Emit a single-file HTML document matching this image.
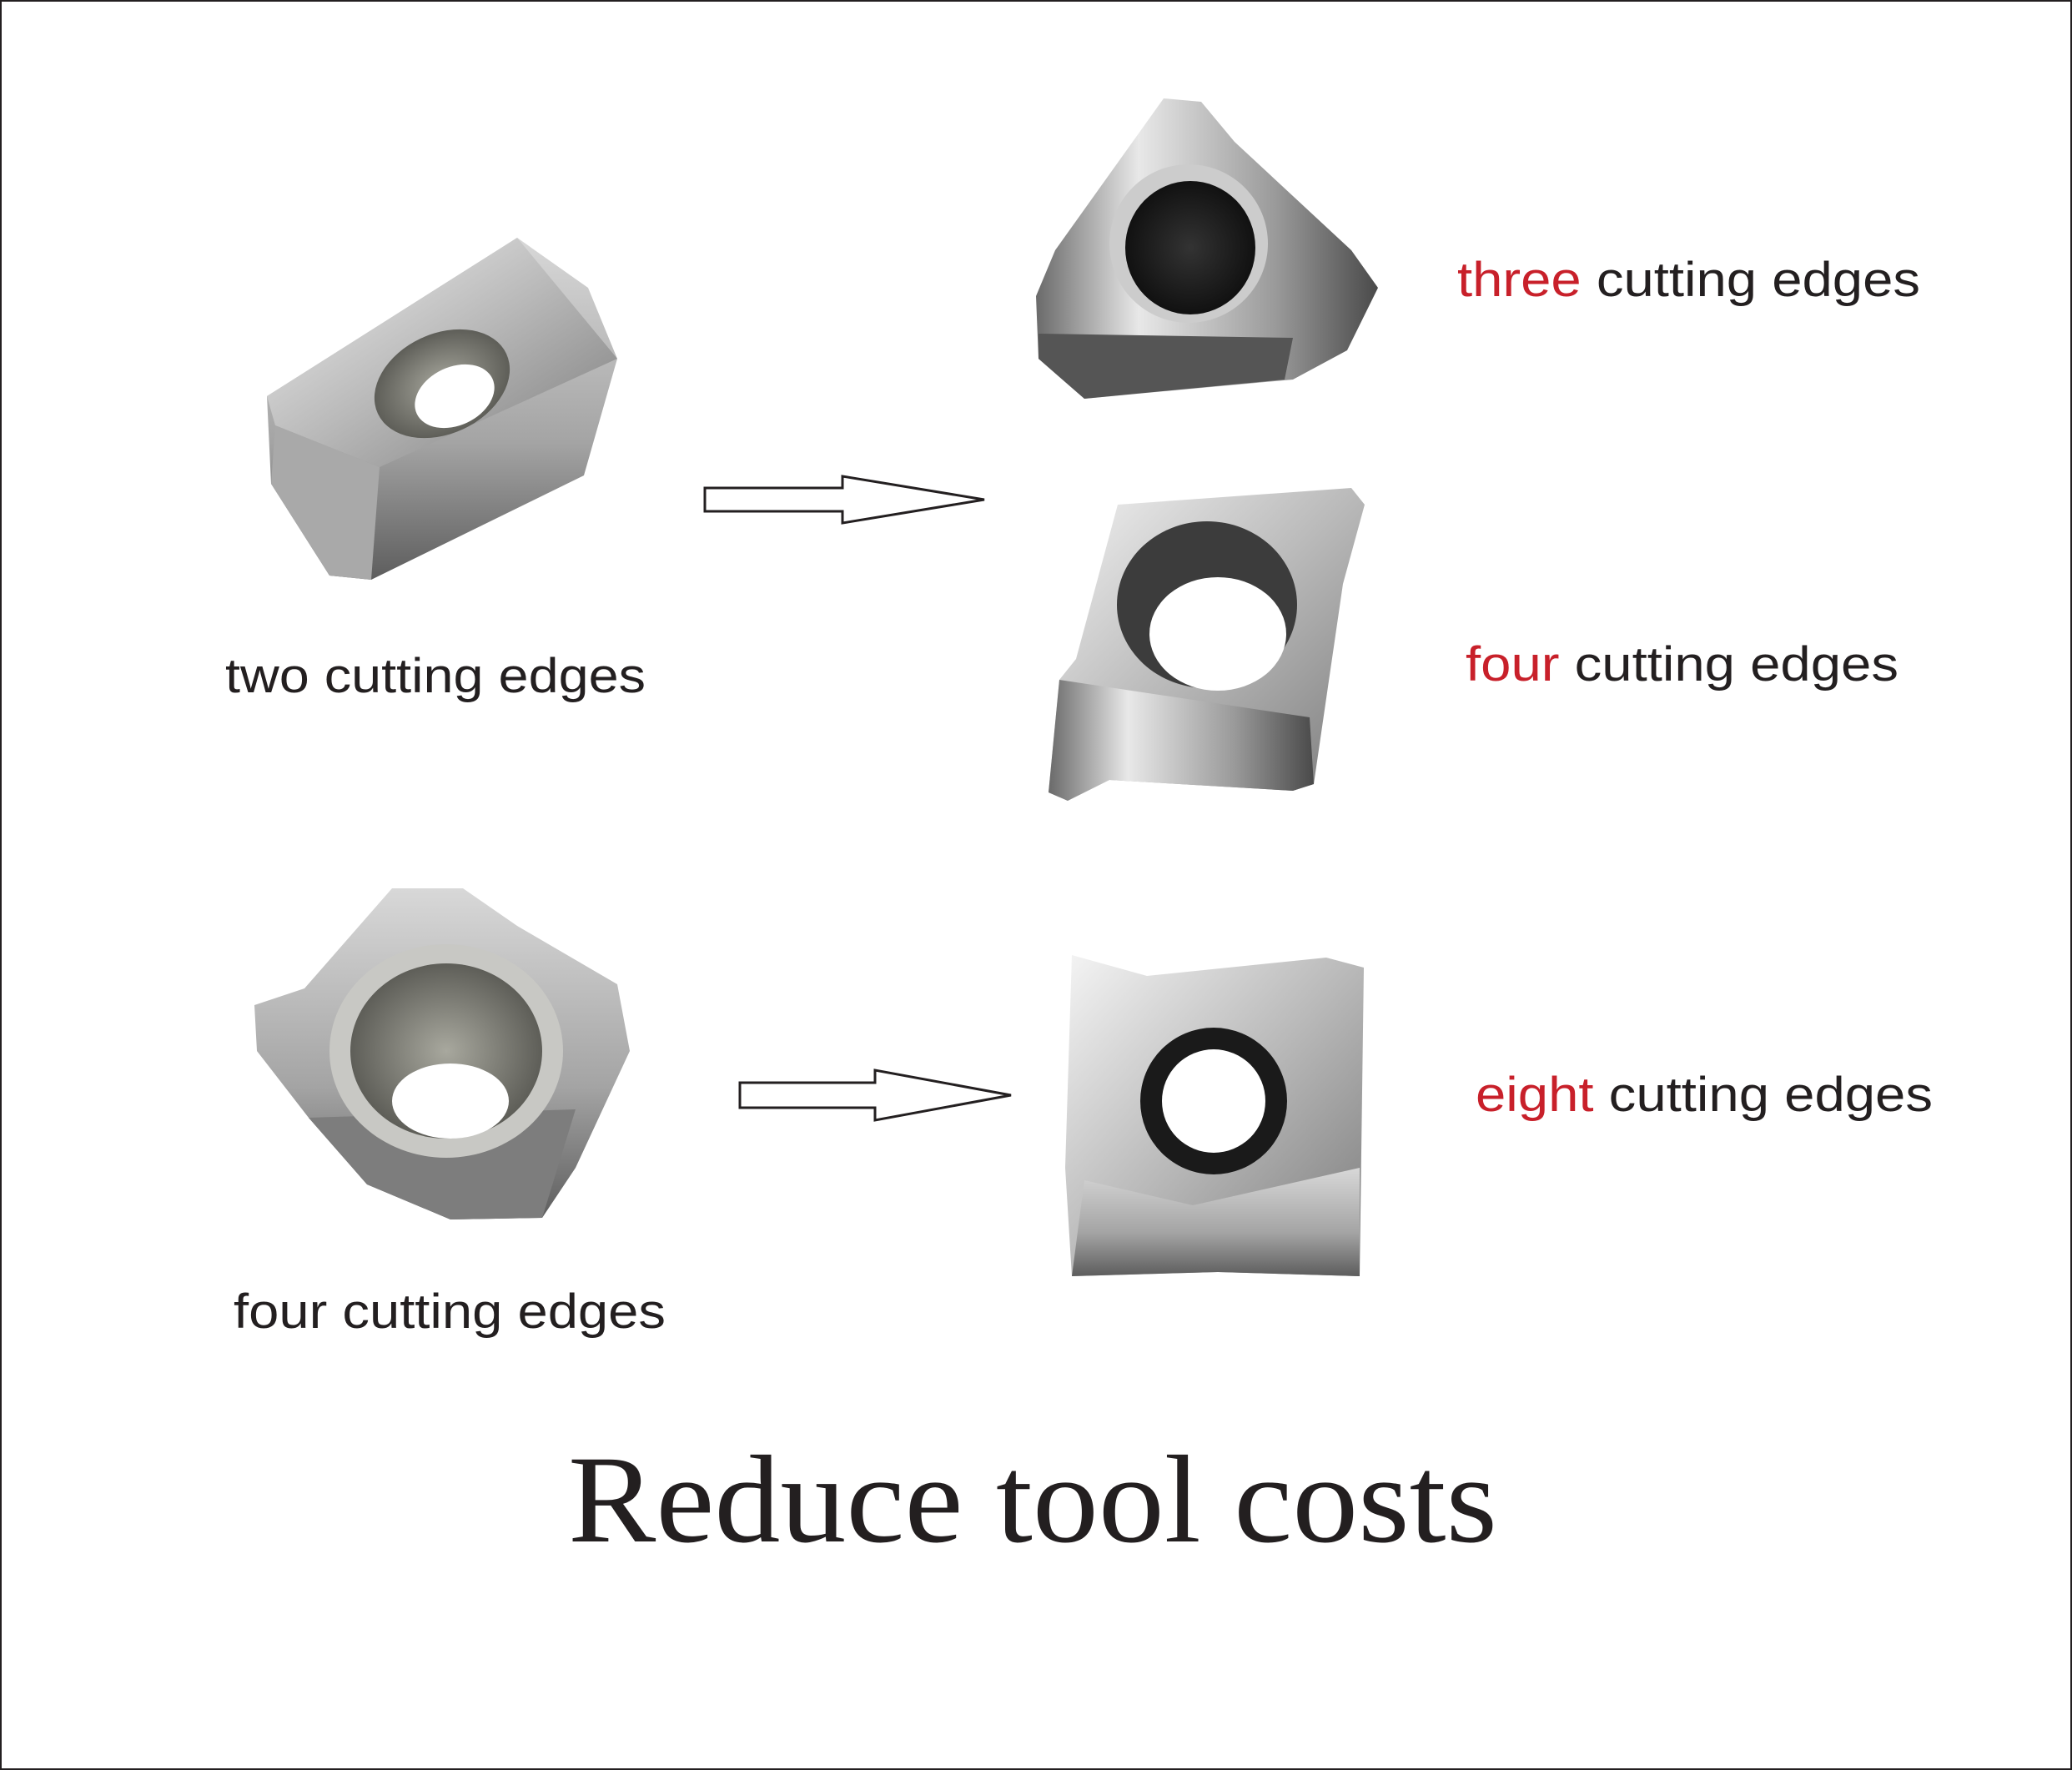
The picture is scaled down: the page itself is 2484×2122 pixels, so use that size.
<!DOCTYPE html>
<html><head><meta charset="utf-8"><style>
html,body{margin:0;padding:0;background:#fff}
svg{display:block}
</style></head><body>
<svg width="2484" height="2122" viewBox="0 0 2484 2122" xmlns="http://www.w3.org/2000/svg">
<defs>
<linearGradient id="m1" x1="0" y1="0" x2="1" y2="1"><stop offset="0" stop-color="#f4f4f4"/><stop offset=".5" stop-color="#b9b9b9"/><stop offset="1" stop-color="#7a7a7a"/></linearGradient>
<linearGradient id="m2" x1="0" y1="0" x2="0" y2="1"><stop offset="0" stop-color="#d8d8d8"/><stop offset=".6" stop-color="#a4a4a4"/><stop offset="1" stop-color="#5d5d5d"/></linearGradient>
<linearGradient id="m3" x1="0" y1="0" x2="1" y2="0"><stop offset="0" stop-color="#6a6a6a"/><stop offset=".3" stop-color="#e8e8e8"/><stop offset=".7" stop-color="#9a9a9a"/><stop offset="1" stop-color="#4a4a4a"/></linearGradient>
<radialGradient id="h1"><stop offset="0" stop-color="#a8a89e"/><stop offset="1" stop-color="#5e5e58"/></radialGradient>
<radialGradient id="h2"><stop offset="0" stop-color="#333"/><stop offset="1" stop-color="#111"/></radialGradient>
</defs>
<rect x="1" y="1" width="2482" height="2120" fill="#fff" stroke="#231f20" stroke-width="2"/>

<!-- top-left insert -->
<polygon points="320,475 620,285 705,345 740,430 700,570 445,695 395,690 325,580" fill="url(#m2)"/>
<polygon points="320,475 620,285 740,430 455,560 330,510" fill="url(#m1)"/>
<polygon points="330,510 455,560 445,695 395,690 325,580" fill="#a9a9a9"/>
<ellipse cx="530" cy="460" rx="85" ry="60" fill="url(#h1)" transform="rotate(-25 530 460)"/>
<ellipse cx="545" cy="475" rx="50" ry="35" fill="#fff" transform="rotate(-25 545 475)"/>

<!-- arrow 1 -->
<polygon points="845,585 1010,585 1010,571 1180,599 1010,627 1010,613 845,613" fill="#fff" stroke="#231f20" stroke-width="3"/>

<!-- triangle insert -->
<polygon points="1395,118 1440,122 1480,170 1620,300 1652,345 1615,420 1550,455 1300,478 1245,430 1242,355 1265,300" fill="url(#m3)"/>
<polygon points="1245,400 1550,405 1540,455 1300,478 1245,430" fill="#555"/>
<ellipse cx="1425" cy="292" rx="95" ry="95" fill="#ccc"/>
<ellipse cx="1427" cy="297" rx="78" ry="80" fill="url(#h2)"/>

<!-- four-edge insert (right) -->
<polygon points="1340,605 1620,585 1636,605 1610,700 1575,940 1550,948 1330,935 1280,960 1257,950 1270,815 1290,790" fill="url(#m1)"/>
<polygon points="1270,815 1570,860 1575,940 1550,948 1330,935 1280,960 1257,950" fill="url(#m3)"/>
<ellipse cx="1447" cy="725" rx="108" ry="100" fill="#3c3c3c"/>
<ellipse cx="1460" cy="760" rx="82" ry="68" fill="#fff"/>

<!-- bottom-left insert -->
<polygon points="470,1065 555,1065 620,1110 740,1180 755,1260 690,1400 650,1460 540,1462 440,1420 370,1340 308,1260 305,1205 365,1185" fill="url(#m2)"/>
<polygon points="370,1340 690,1330 650,1460 540,1462 440,1420" fill="#7d7d7d"/>
<ellipse cx="535" cy="1260" rx="140" ry="128" fill="#c8c8c4"/>
<ellipse cx="535" cy="1260" rx="115" ry="105" fill="url(#h1)"/>
<ellipse cx="540" cy="1320" rx="70" ry="45" fill="#fff"/>

<!-- arrow 2 -->
<polygon points="887,1298 1049,1298 1049,1283 1212,1313 1049,1343 1049,1328 887,1328" fill="#fff" stroke="#231f20" stroke-width="3"/>

<!-- eight-edge insert -->
<polygon points="1285,1145 1375,1170 1590,1148 1635,1160 1630,1530 1460,1525 1285,1530 1277,1400" fill="url(#m1)"/>
<polygon points="1300,1415 1430,1445 1630,1400 1630,1530 1460,1525 1285,1530" fill="url(#m2)"/>
<ellipse cx="1455" cy="1320" rx="88" ry="88" fill="#1a1a1a"/>
<ellipse cx="1455" cy="1320" rx="62" ry="62" fill="#fff"/>

<!-- labels -->
<g font-family="Liberation Sans, Arial, sans-serif" font-size="58" fill="#231f20">
<text x="270" y="830" textLength="504" lengthAdjust="spacingAndGlyphs">two cutting edges</text>
<text x="280" y="1592" textLength="518" lengthAdjust="spacingAndGlyphs">four cutting edges</text>
<text x="1747" y="355" textLength="555" lengthAdjust="spacingAndGlyphs"><tspan fill="#c8202a">three</tspan> cutting edges</text>
<text x="1757" y="816" textLength="519" lengthAdjust="spacingAndGlyphs"><tspan fill="#c8202a">four</tspan> cutting edges</text>
<text x="1769" y="1332" textLength="548" lengthAdjust="spacingAndGlyphs"><tspan fill="#c8202a">eight</tspan> cutting edges</text>
</g>
<text x="681" y="1848" font-family="Liberation Serif, Times New Roman, serif" font-size="150" fill="#231f20" textLength="1114" lengthAdjust="spacingAndGlyphs">Reduce tool costs</text>
</svg>
</body></html>
